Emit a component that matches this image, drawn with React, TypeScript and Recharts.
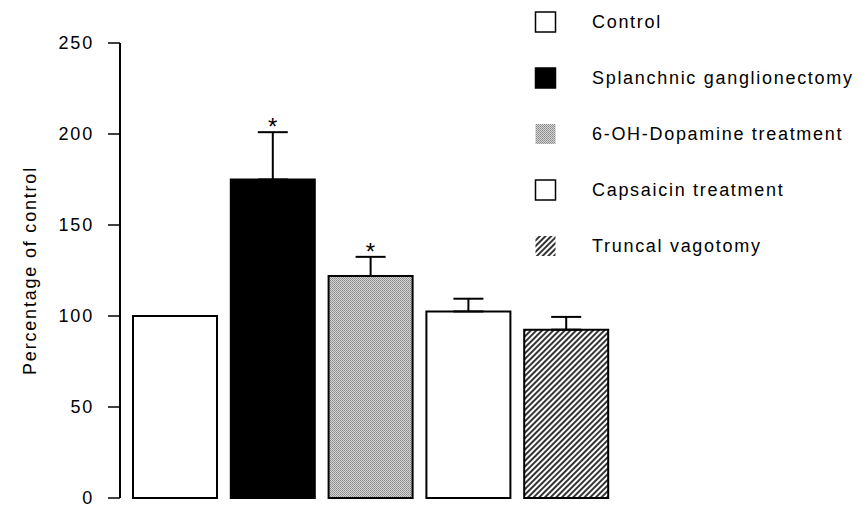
import React from "react";
import { ComposedChart, Bar, Cell, XAxis, YAxis, ErrorBar, Scatter } from "recharts";

const categories = [
  "Control",
  "Splanchnic ganglionectomy",
  "6-OH-Dopamine treatment",
  "Capsaicin treatment",
  "Truncal vagotomy",
];
const values = [100, 175, 122, 102.5, 92.5];
const errors = [0, 26, 10.5, 7, 7];
const significant = [false, true, true, false, false];
const yTicks = [0, 50, 100, 150, 200, 250];
const fills = ["#ffffff", "#000000", "url(#dots)", "#ffffff", "url(#hatch)"];
const legendFills = ["#ffffff", "#000000", "url(#ldots)", "#ffffff", "url(#lhatch)"];

const data = categories.map((name, i) => ({
  name,
  value: values[i],
  err: [0, errors[i]],
  star: significant[i] ? values[i] + errors[i] : null,
}));

const FONT = "'Liberation Sans', Arial, Helvetica, sans-serif";

const Patterns = ({ prefix }: { prefix: string }) => (
  <defs>
    <pattern id={prefix + "dots"} width="2" height="2" patternUnits="userSpaceOnUse">
      <rect width="2" height="2" fill="#d4d4d4" />
      <rect width="1" height="1" fill="#8a8a8a" />
      <rect x="1" y="1" width="1" height="1" fill="#9a9a9a" />
    </pattern>
    <pattern
      id={prefix + "hatch"}
      width="4"
      height="4"
      patternUnits="userSpaceOnUse"
      patternTransform="rotate(45)"
    >
      <rect width="4" height="4" fill="#ffffff" />
      <line x1="1" y1="0" x2="1" y2="4" stroke="#000" strokeWidth="1.6" />
    </pattern>
  </defs>
);

const Star = (props: any) => {
  const { cx, cy, payload } = props;
  if (payload == null || payload.star == null) return null;
  return (
    <text
      x={cx}
      y={cy + 3}
      textAnchor="middle"
      fontFamily={FONT}
      fontSize={24}
      fill="#000"
    >
      *
    </text>
  );
};

export default function App() {
  return (
    <div
      style={{
        position: "absolute",
        left: 0,
        top: 0,
        width: 868,
        height: 509,
        background: "#fff",
        fontFamily: FONT,
      }}
    >
      <ComposedChart
        width={868}
        height={509}
        data={data}
        margin={{ top: 43, right: 213, bottom: 11, left: 0 }}
      >
        <Patterns prefix="" />
        <XAxis
          dataKey="name"
          type="category"
          tick={false}
          tickLine={false}
          height={0}
          axisLine={{ stroke: "#000", strokeWidth: 2 }}
          padding={{ left: 6, right: 40 }}
        />
        <YAxis
          type="number"
          domain={[0, 250]}
          ticks={yTicks}
          width={120}
          tickSize={12}
          tickMargin={14}
          axisLine={{ stroke: "#000", strokeWidth: 2 }}
          tickLine={{ stroke: "#000", strokeWidth: 1.5 }}
          tick={{ fill: "#000", fontSize: 18, fontFamily: FONT, letterSpacing: 1.8 }}
          label={{
            value: "Percentage of control",
            angle: -90,
            position: "insideLeft",
            offset: 0,
            dx: 30,
            style: {
              textAnchor: "middle",
              fill: "#000",
              fontSize: 18,
              fontFamily: FONT,
              letterSpacing: 1.8,
            },
          }}
        />
        <Bar
          dataKey="value"
          barSize={84}
          stroke="#000"
          strokeWidth={2}
          isAnimationActive={false}
        >
          {data.map((d, i) => (
            <Cell key={d.name} fill={fills[i]} />
          ))}
          <ErrorBar
            dataKey="err"
            direction="y"
            width={15}
            stroke="#000"
            strokeWidth={2}
          />
        </Bar>
        <Scatter dataKey="star" shape={Star} isAnimationActive={false} />
      </ComposedChart>
      <svg
        width={348}
        height={270}
        style={{ position: "absolute", left: 520, top: 0 }}
      >
        <Patterns prefix="l" />
        {categories.map((c, i) => (
          <g key={c}>
            <rect
              x={15.5}
              y={12 + i * 56}
              width={20}
              height={20}
              fill={legendFills[i]}
              stroke={i === 2 || i === 4 ? "none" : "#000"}
              strokeWidth={1.5}
            />
            <text
              x={72}
              y={22 + i * 56}
              dominantBaseline="central"
              fontFamily={FONT}
              fontSize={18}
              letterSpacing={1.7}
              fill="#000"
            >
              {c}
            </text>
          </g>
        ))}
      </svg>
    </div>
  );
}
